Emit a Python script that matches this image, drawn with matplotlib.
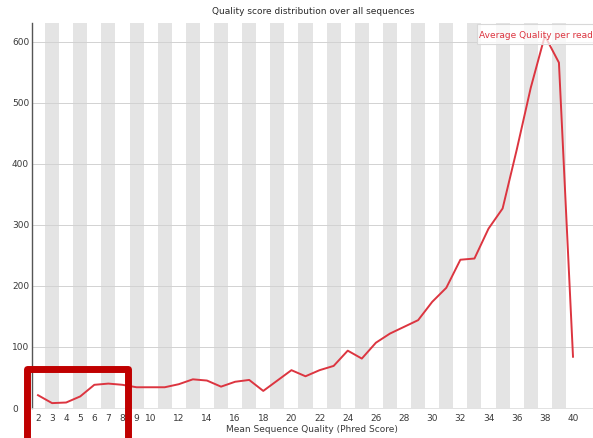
import matplotlib
matplotlib.use("Agg")
import matplotlib.pyplot as plt
from matplotlib.patches import Rectangle

# Mean Phred quality per read vs. number of reads
quality = list(range(2, 41))
read_counts = [21, 8, 9, 19, 38, 40, 38, 34, 34, 34, 39, 47, 45, 35, 43, 46, 28, 45, 62,
               52, 62, 69, 94, 81, 107, 122, 133, 144, 174,
               197, 243, 245, 294, 327, 423, 525, 610, 566, 84]
xtick_values = [2, 3, 4, 5, 6, 7, 8, 9, 10, 12, 14, 16, 18, 20, 22, 24, 26, 28, 30,
                32, 34, 36, 38, 40]
ytick_values = [0, 100, 200, 300, 400, 500, 600]

title = "Quality score distribution over all sequences"
xlabel = "Mean Sequence Quality (Phred Score)"
legend_label = "Average Quality per read"

W, H = 593, 438
fig = plt.figure(figsize=(W / 100, H / 100), dpi=100)
ax = fig.add_axes([32 / W, 30 / H, 1 - 32 / W, (408 - 23) / H])

# alternating grey bands behind odd quality values
for q in quality:
    if q % 2 == 1:
        ax.axvspan(q - 0.5, q + 0.5, color="#e4e4e4", lw=0, zorder=0)

for y in ytick_values[1:]:
    ax.axhline(y, color="#d2d2d2", lw=0.7, zorder=1)

ax.plot(quality, read_counts, color="#dc3540", lw=1.4, zorder=3, clip_on=False)

ax.set_xlim(1.574, 41.42)
ax.set_ylim(0, 631)
ax.set_xticks(xtick_values)
ax.set_xticklabels([str(v) for v in xtick_values])
ax.set_yticks(ytick_values)
ax.tick_params(axis="both", length=0, labelsize=6.5, colors="#3a3a3a")
ax.tick_params(axis="x", pad=4)
ax.tick_params(axis="y", pad=14.4)
for lbl in ax.get_yticklabels():
    lbl.set_horizontalalignment("left")

for side in ("top", "right"):
    ax.spines[side].set_visible(False)
ax.spines["bottom"].set_color("#dddddd")
ax.spines["bottom"].set_linewidth(0.6)
ax.spines["left"].set_color("#555555")
ax.spines["left"].set_linewidth(1.0)

fig.text(313 / W, 1 - 12 / H, title, ha="center", va="center", fontsize=6.5, color="#2a2a2a")
fig.text(312 / W, 1 - 430 / H, xlabel, ha="center", va="center", fontsize=6.5, color="#3a3a3a")

# legend box in the top-right corner, slightly see-through
fig.patches.append(Rectangle((477 / W, 1 - 44 / H), 130 / W, 20 / H,
                             transform=fig.transFigure, facecolor=(1, 1, 1, 0.75),
                             edgecolor="#d8d8d8", lw=0.8, zorder=5))
fig.text(479 / W, 1 - 35 / H, legend_label, ha="left", va="center",
         fontsize=6.5, color="#dc3540", zorder=6)

# highlight box around the low-quality tail
fig.patches.append(Rectangle((26.5 / W, 1 - 460 / H), (128 - 26.5) / W, (460 - 368.5) / H,
                             transform=fig.transFigure, fill=False,
                             edgecolor="#c00000", lw=5, joinstyle="round", zorder=10))

fig.savefig("out.png", dpi=100)
